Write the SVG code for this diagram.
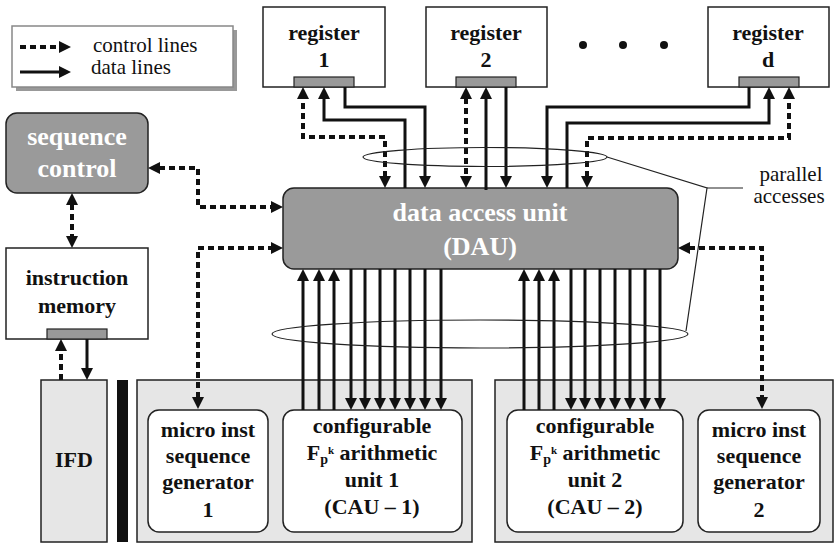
<svg xmlns="http://www.w3.org/2000/svg" width="834" height="545" viewBox="0 0 834 545">
<defs>
<marker id="ah" viewBox="0 0 12 12" refX="1" refY="6" markerWidth="12" markerHeight="12" markerUnits="userSpaceOnUse" orient="auto-start-reverse"><path d="M0,0 L12,6 L0,12 z" fill="#111"/></marker>
<style>
.box{fill:#fff;stroke:#222;stroke-width:1.5}
.gray{fill:#9a9a9a;stroke:#222;stroke-width:1.5}
.light{fill:#e6e6e6;stroke:#222;stroke-width:1.5}
.port{fill:#999;stroke:#222;stroke-width:1.2}
.t{font-weight:bold;font-size:22px;fill:#111;text-anchor:middle}
.tw{font-weight:bold;font-size:26px;fill:#fff;text-anchor:middle}
.n{font-size:21px;fill:#111}
.d{fill:none;stroke:#111;stroke-width:4;stroke-dasharray:6 4}
.s{fill:none;stroke:#111;stroke-width:3}
.a{marker-end:url(#ah)}
.b{marker-start:url(#ah);marker-end:url(#ah)}
.thin{fill:none;stroke:#222;stroke-width:1.2}
</style>
</defs>
<rect width="834" height="545" fill="#fff"/>

<g font-family="Liberation Serif, Times New Roman, serif">
<g id="legend">
<rect x="16" y="30" width="221" height="61" fill="#999"/>
<rect x="12" y="26" width="221" height="61" fill="#fff" stroke="#888" stroke-width="1.5"/>
<path class="d a" d="M20,47 H60"/>
<path class="s a" d="M20,72 H60"/>
<text class="n" x="93" y="52">control lines</text>
<text class="n" x="91" y="74">data lines</text>
</g>

<g id="register1">
<rect class="box" x="263" y="7" width="122" height="80"/>
<rect class="port" x="294" y="77" width="60" height="10"/>
<text class="t" x="324" y="40">register</text>
<text class="t" x="324" y="67">1</text>
</g>
<g id="register2">
<rect class="box" x="426" y="7" width="121" height="80"/>
<rect class="port" x="456" y="77" width="60" height="10"/>
<text class="t" x="486" y="40">register</text>
<text class="t" x="486" y="67">2</text>
</g>
<g id="dots">
<circle cx="583" cy="45" r="4" fill="#111"/>
<circle cx="623" cy="45" r="4" fill="#111"/>
<circle cx="664" cy="45" r="4" fill="#111"/>
</g>
<g id="registerd">
<rect class="box" x="708" y="7" width="121" height="80"/>
<rect class="port" x="739" y="77" width="60" height="10"/>
<text class="t" x="768" y="40">register</text>
<text class="t" x="768" y="67">d</text>
</g>

<g id="dau">
<rect class="gray" x="283" y="188" width="395" height="81" rx="11"/>
<text class="tw" x="480" y="221">data access unit</text>
<text class="tw" x="480" y="255">(DAU)</text>
</g>

<g id="seqctrl">
<rect class="gray" x="6" y="113" width="142" height="80" rx="11"/>
<text class="tw" x="77" y="145">sequence</text>
<text class="tw" x="77" y="177">control</text>
</g>

<g id="imem">
<rect class="box" x="6" y="248" width="142" height="91"/>
<rect class="port" x="47" y="329" width="60" height="10"/>
<text class="t" x="77" y="285">instruction</text>
<text class="t" x="77" y="313">memory</text>
</g>

<g id="ifd">
<rect class="light" x="41" y="380" width="66" height="162"/>
<text class="t" x="74" y="467">IFD</text>
</g>
<rect id="bar" x="117" y="380" width="11" height="162" fill="#111"/>

<g id="group1">
<rect class="light" x="137" y="380" width="335" height="162"/>
</g>
<g id="micro1">
<rect class="box" x="148" y="410" width="120" height="122" rx="11"/>
<text class="t" x="208" y="437">micro inst</text>
<text class="t" x="208" y="463">sequence</text>
<text class="t" x="208" y="489">generator</text>
<text class="t" x="208" y="517">1</text>
</g>
<g id="cau1">
<rect class="box" x="283" y="410" width="179" height="122" rx="11"/>
<text class="t" x="372" y="433">configurable</text>
<text class="t" x="372" y="460">F<tspan font-size="14" dy="4">p</tspan><tspan font-size="11" dy="-10">k</tspan><tspan dy="6"> arithmetic</tspan></text>
<text class="t" x="372" y="487">unit 1</text>
<text class="t" x="372" y="514">(CAU – 1)</text>
</g>

<g id="group2">
<rect class="light" x="495" y="380" width="338" height="162"/>
</g>
<g id="cau2">
<rect class="box" x="507" y="410" width="176" height="122" rx="11"/>
<text class="t" x="595" y="433">configurable</text>
<text class="t" x="595" y="460">F<tspan font-size="14" dy="4">p</tspan><tspan font-size="11" dy="-10">k</tspan><tspan dy="6"> arithmetic</tspan></text>
<text class="t" x="595" y="487">unit 2</text>
<text class="t" x="595" y="514">(CAU – 2)</text>
</g>
<g id="micro2">
<rect class="box" x="698" y="410" width="122" height="122" rx="11"/>
<text class="t" x="759" y="437">micro inst</text>
<text class="t" x="759" y="463">sequence</text>
<text class="t" x="759" y="489">generator</text>
<text class="t" x="759" y="517">2</text>
</g>

<g id="connectors">
<path class="d b" d="M385,177 V137 H303 V98"/>
<path class="s a" d="M405,188 V120 H324 V98"/>
<path class="s a" d="M345,87 V107 H425 V177"/>
<path class="d b" d="M466,98 V177"/>
<path class="s a" d="M486,190 V98"/>
<path class="s a" d="M506,87 V177"/>
<path class="s a" d="M749,87 V107 H547 V177"/>
<path class="s a" d="M567,188 V123 H769 V98"/>
<path class="d b" d="M587,177 V138 H789 V98"/>
<path class="d b" d="M159,168 H198 V207 H272"/>
<path class="d b" d="M198,398 V248 H272"/>
<path class="d b" d="M72,204 V237"/>
<path class="d a" d="M61,380 V350"/>
<path class="s a" d="M87,339 V369"/>
<path class="d b" d="M689,248 H762 V398"/>
<path class="s a" d="M303,410 V280"/>
<path class="s a" d="M319,410 V280"/>
<path class="s a" d="M334,410 V280"/>
<path class="s a" d="M351,269 V399"/>
<path class="s a" d="M365,269 V399"/>
<path class="s a" d="M380,269 V399"/>
<path class="s a" d="M395,269 V399"/>
<path class="s a" d="M410,269 V399"/>
<path class="s a" d="M425,269 V399"/>
<path class="s a" d="M441,269 V399"/>
<path class="s a" d="M524,410 V280"/>
<path class="s a" d="M539,410 V280"/>
<path class="s a" d="M554,410 V280"/>
<path class="s a" d="M571,269 V399"/>
<path class="s a" d="M585,269 V399"/>
<path class="s a" d="M600,269 V399"/>
<path class="s a" d="M615,269 V399"/>
<path class="s a" d="M630,269 V399"/>
<path class="s a" d="M645,269 V399"/>
<path class="s a" d="M660,269 V399"/>
</g>

<g id="parallel">
<ellipse class="thin" cx="485" cy="157" rx="122" ry="9.5"/>
<ellipse class="thin" cx="480" cy="334" rx="208" ry="14"/>
<polyline class="thin" points="607,157 707,188 686,331"/>
<line class="thin" x1="707" y1="188" x2="743" y2="188"/>
<text class="n" x="791" y="181" text-anchor="middle">parallel</text>
<text class="n" x="789" y="203" text-anchor="middle">accesses</text>
</g>
</g>
</svg>
